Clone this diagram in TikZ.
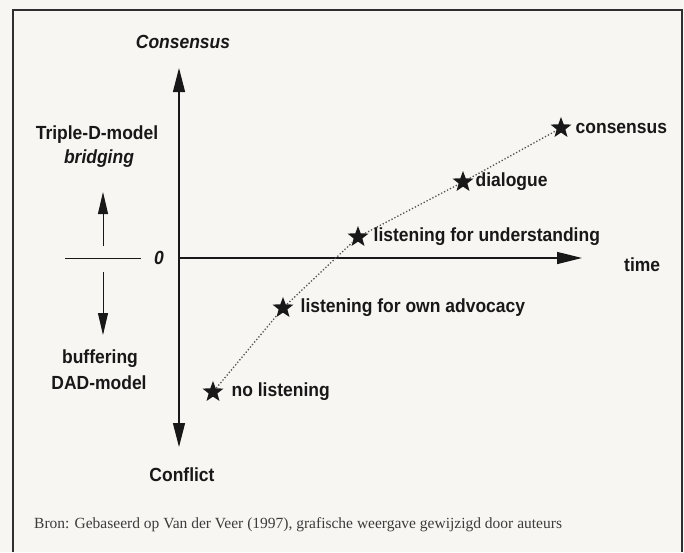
\documentclass[tikz,border=0pt]{standalone}
\usepackage{fontspec}
\setmainfont{Liberation Serif}
\newfontfamily\labfont[FakeStretch=0.92]{Liberation Sans}
\usetikzlibrary{positioning,
	shapes.geometric,
	arrows.meta}
\definecolor{paper}{RGB}{247,246,242}
\definecolor{ink}{RGB}{24,24,24}
\tikzstyle{lbl}=[inner sep=0, text=ink, font=\labfont\bfseries\fontsize{19}{21}\selectfont]
\tikzstyle{ilbl}=[lbl, font=\labfont\bfseries\itshape\fontsize{19}{21}\selectfont]
\tikzstyle{pt}=[star, star points=5, star point ratio=2.4, fill=ink, inner sep=0, minimum size=22pt]
\tikzstyle{ax}=[draw=ink, line width=1.3pt]
\tikzstyle{bighead}=[-{Triangle[length=25pt,width=12pt]}]
\tikzstyle{smallhead}=[draw=ink, line width=1pt, -{Triangle[length=22pt,width=10pt]}]
\tikzstyle{trail}=[draw=ink!75, dotted, line width=1.3pt]

\begin{document}
\begin{tikzpicture}[x=1pt,y=-1pt]
	\fill[paper] (0,0) rectangle (684,552);
	\useasboundingbox (0,0) rectangle (684,552);
	% frame, open at the bottom
	\draw[ink!90, line width=2pt] (13,552) -- (13,10) -- (682,10) -- (682,552);

	% axes
	\coordinate (o) at (179,258);
	\coordinate (top) at (179,68);
	\coordinate (bot) at (179,447);
	\coordinate (tend) at (582,258);
	\draw[ax, {Triangle[length=24pt,width=12pt]}-{Triangle[length=24pt,width=12pt]}] (bot) -- (top);
	\draw[ax, bighead] (o) -- (tend);
	\node[ilbl] (cons) at (183,42) {Consensus};
	\node[lbl] (conf) at (182,475) {Conflict};
	\node[lbl, anchor=west] (time) at (624,265) {time};

	% scale on the left
	\node[ilbl] (zero) at (159,258) {0};
	\coordinate (z1) at (65,258);
	\coordinate (z2) at (141,258);
	\draw[ink, line width=1pt] (z1) -- (z2);
	\node[lbl] (tdm) at (97,135) {Triple-D-model};
	\node[ilbl] (brg) at (99,159) {bridging};
	\node[lbl] (buf) at (100,359) {buffering};
	\node[lbl] (dad) at (99,383) {DAD-model};
	\coordinate (up0) at (103,246);
	\coordinate (up1) at (103,192);
	\coordinate (dn0) at (103,272);
	\coordinate (dn1) at (103,335);
	\draw[smallhead] (up0) -- (up1);
	\draw[smallhead] (dn0) -- (dn1);

	% stages
	\node[pt] (s1) at (213,392) {};
	\node[pt] (s2) at (283,308) {};
	\node[pt] (s3) at (358,237) {};
	\node[pt] (s4) at (463,182) {};
	\node[pt] (s5) at (561,128) {};
	\draw[trail] (s1) -- (s2) -- (s3) -- (s4) -- (s5);
	\node[lbl, right=12pt of s1] (l1) {no listening};
	\node[lbl, right=11pt of s2] (l2) {listening for own advocacy};
	\node[lbl, right=9pt of s3] (l3) {listening for understanding};
	\node[lbl, right=6pt of s4] (l4) {dialogue};
	\node[lbl, right=8pt of s5] (l5) {consensus};

	\node[anchor=west, inner sep=0, text=ink!85, font=\fontsize{15.5}{17}\selectfont] (src) at (34,525)
		{Bron: Gebaseerd op Van der Veer (1997), grafische weergave gewijzigd door auteurs};
\end{tikzpicture}
\end{document}
